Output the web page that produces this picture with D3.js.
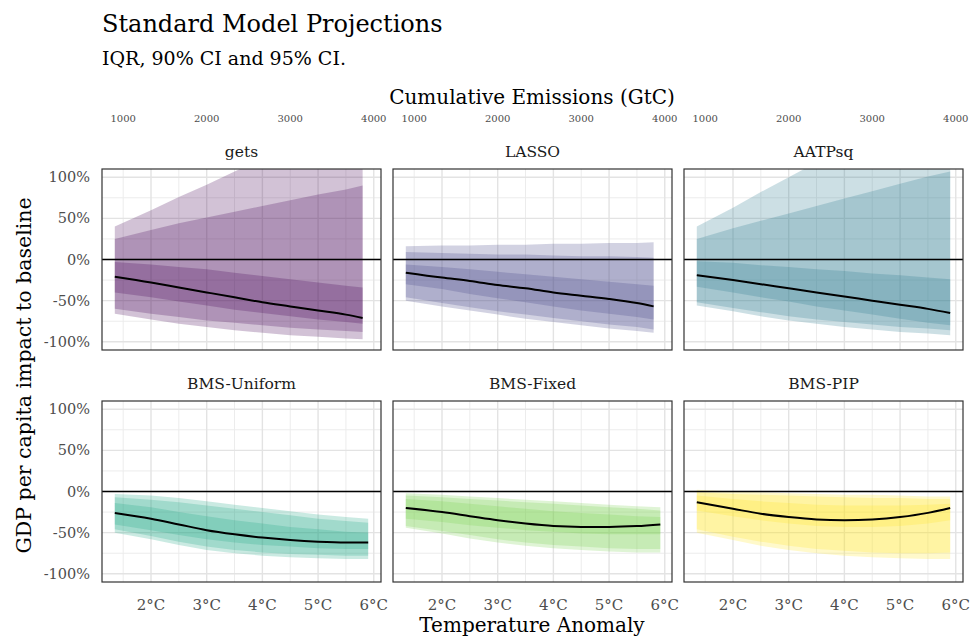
<!DOCTYPE html>
<html>
<head>
<meta charset="utf-8">
<script src="https://cdn.jsdelivr.net/npm/d3@7"></script>
<style>
  body { margin: 0; background: #fff; }
  svg text { font-family: "DejaVu Serif", serif; }
</style>
</head>
<body>
<svg id="chart"></svg>
<script>
const width = 973;
const height = 639;

// facets, in plotting order (3 x 2)
const models = ["gets", "LASSO", "AATPsq", "BMS-Uniform", "BMS-Fixed", "BMS-PIP"];

// temperature anomaly (°C) where the projections are read, last point differs per model
const tempGrid = [1.35, 2, 2.5, 3, 3.5, 4, 4.5, 5, 5.5];
const tempEnd = [5.8, 5.8, 5.9, 5.9, 5.92, 5.9];

// GDP per capita impact in %, one row per model, one value per temperature
const medianVals = [
    [-21, -28, -34, -40, -46, -52, -57, -62, -67, -71],
    [-16, -22, -26, -31, -35, -40, -44, -48, -53, -57],
    [-19, -25, -30, -35, -40, -45, -50, -55, -60, -65],
    [-26, -33, -40, -47, -52, -56, -59, -61, -62, -62],
    [-20, -25, -30, -35, -39, -42, -43, -43, -42, -40],
    [-13, -21, -27, -31, -34, -35, -34, -31, -26, -20]
];
const iqrHi = [
    [-3, -6, -9, -12, -16, -20, -24, -28, -32, -34],
    [-6, -9, -12, -15, -18, -21, -24, -27, -30, -32],
    [-2, -4, -7, -9, -12, -14, -17, -19, -22, -24],
    [-14, -19, -25, -30, -35, -39, -43, -46, -49, -50],
    [-9, -12, -15, -18, -21, -24, -26, -28, -30, -31],
    [-5, -9, -12, -14, -16, -17, -17, -17, -16, -15]
];
const iqrLo = [
    [-40, -46, -51, -56, -61, -65, -69, -73, -76, -78],
    [-30, -36, -42, -47, -52, -57, -62, -66, -70, -73],
    [-33, -40, -46, -51, -57, -62, -67, -72, -77, -80],
    [-40, -47, -53, -58, -62, -65, -67, -69, -70, -70],
    [-33, -37, -41, -44, -47, -49, -51, -52, -52, -52],
    [-23, -30, -35, -39, -42, -43, -43, -42, -39, -35]
];
const ci90Hi = [
    [25, 36, 44, 51, 58, 65, 72, 79, 85, 90],
    [9, 8, 7, 6, 6, 5, 4, 4, 3, 2],
    [25, 38, 47, 56, 65, 74, 83, 92, 101, 107],
    [-7, -10, -13, -17, -21, -25, -29, -33, -36, -38],
    [-5, -7, -9, -11, -13, -15, -17, -19, -21, -23],
    [-1, -3, -4, -5, -6, -7, -8, -8, -9, -9]
];
const ci90Lo = [
    [-60, -66, -70, -74, -77, -80, -83, -85, -87, -88],
    [-46, -53, -58, -63, -67, -71, -75, -79, -82, -85],
    [-52, -59, -64, -69, -73, -76, -79, -82, -84, -86],
    [-46, -54, -61, -67, -71, -74, -76, -77, -78, -78],
    [-42, -48, -53, -58, -62, -65, -67, -69, -70, -70],
    [-46, -55, -61, -66, -70, -72, -74, -75, -75, -74]
];
const ci95Hi = [
    [40, 60, 76, 91, 107, 122, 138, 153, 168, 178],
    [16, 17, 17, 18, 18, 19, 19, 20, 20, 21],
    [40, 63, 82, 100, 118, 137, 155, 173, 192, 207],
    [-3, -5, -8, -12, -16, -20, -24, -28, -31, -33],
    [-2, -4, -6, -8, -10, -12, -14, -16, -18, -19],
    [2, 0, -1, -2, -3, -4, -4, -5, -6, -6]
];
const ci95Lo = [
    [-66, -73, -78, -82, -86, -89, -92, -94, -96, -97],
    [-50, -57, -62, -67, -72, -76, -80, -84, -87, -89],
    [-56, -63, -69, -74, -78, -82, -85, -88, -90, -92],
    [-50, -58, -65, -71, -75, -78, -80, -81, -82, -82],
    [-44, -51, -57, -62, -66, -69, -71, -73, -74, -74],
    [-50, -59, -66, -71, -75, -78, -80, -81, -82, -82]
];

// axis ticks
const tempTicks = [2, 3, 4, 5, 6];
const tempMinor = [1.5, 2.5, 3.5, 4.5, 5.5];
const impactTicks = [-100, -50, 0, 50, 100];
const impactMinor = [-75, -25, 25, 75];
const emissionTicks = [1000, 2000, 3000, 4000];
const degPerGtC = 0.0015; // secondary axis: emissions -> temperature

// viridis, one per model
const modelColors = ["#440154", "#414487", "#2A788E", "#22A884", "#7AD151", "#FDE725"];
const bandOpacity = 0.24;

const panelW = 279, panelH = 181;
const colX = [102, 393, 684];
const rowY = [169, 401];

const svg = d3.select("#chart")
    .attr("width", width)
    .attr("height", height);

const x = d3.scaleLinear().domain([1.12, 6.13]).range([0, panelW]);
const y = d3.scaleLinear().domain([-110, 110]).range([panelH, 0]);

// titles
svg.append("text").attr("x", 102).attr("y", 32)
    .attr("font-size", "24px").attr("fill", "#000")
    .text("Standard Model Projections");
svg.append("text").attr("x", 102).attr("y", 65)
    .attr("font-size", "19px").attr("fill", "#000")
    .text("IQR, 90% CI and 95% CI.");

svg.append("text")
    .attr("x", 532).attr("y", 104)
    .attr("text-anchor", "middle")
    .attr("font-size", "20px").attr("fill", "#000")
    .text("Cumulative Emissions (GtC)");

svg.append("text")
    .attr("x", 532).attr("y", 632)
    .attr("text-anchor", "middle")
    .attr("font-size", "20px").attr("fill", "#000")
    .text("Temperature Anomaly");

svg.append("text")
    .attr("transform", `translate(31,${(rowY[0] + rowY[1] + panelH) / 2}) rotate(-90)`)
    .attr("text-anchor", "middle")
    .attr("font-size", "20.5px").attr("fill", "#000")
    .text("GDP per capita impact to baseline");

models.forEach((name, i) => {
    const col = i % 3, row = Math.floor(i / 3);
    const g = svg.append("g")
        .attr("transform", `translate(${colX[col]},${rowY[row]})`);

    // build the rows for this model
    const temps = tempGrid.concat([tempEnd[i]]);
    const rows = temps.map((t, k) => ({
        t: t,
        med: medianVals[i][k],
        iqrHi: iqrHi[i][k], iqrLo: iqrLo[i][k],
        ci90Hi: ci90Hi[i][k], ci90Lo: ci90Lo[i][k],
        ci95Hi: ci95Hi[i][k], ci95Lo: ci95Lo[i][k]
    }));

    g.append("clipPath").attr("id", "clip" + i)
        .append("rect").attr("width", panelW).attr("height", panelH);

    // grid
    const grid = g.append("g");
    grid.selectAll(".vminor").data(tempMinor).join("line")
        .attr("x1", d => x(d)).attr("x2", d => x(d))
        .attr("y1", 0).attr("y2", panelH)
        .attr("stroke", "#ececec").attr("stroke-width", 1);
    grid.selectAll(".hminor").data(impactMinor).join("line")
        .attr("x1", 0).attr("x2", panelW)
        .attr("y1", d => y(d)).attr("y2", d => y(d))
        .attr("stroke", "#ececec").attr("stroke-width", 1);
    grid.selectAll(".vmajor").data(tempTicks).join("line")
        .attr("x1", d => x(d)).attr("x2", d => x(d))
        .attr("y1", 0).attr("y2", panelH)
        .attr("stroke", "#e3e3e3").attr("stroke-width", 1.4);
    grid.selectAll(".hmajor").data(impactTicks).join("line")
        .attr("x1", 0).attr("x2", panelW)
        .attr("y1", d => y(d)).attr("y2", d => y(d))
        .attr("stroke", "#e3e3e3").attr("stroke-width", 1.4);

    const plot = g.append("g").attr("clip-path", `url(#clip${i})`);

    // ribbons: 95% CI, 90% CI, IQR stacked with transparency
    [["ci95Lo", "ci95Hi"], ["ci90Lo", "ci90Hi"], ["iqrLo", "iqrHi"]].forEach(([lo, hi]) => {
        plot.append("path")
            .datum(rows)
            .attr("fill", modelColors[i])
            .attr("fill-opacity", bandOpacity)
            .attr("d", d3.area()
                .x(d => x(d.t))
                .y0(d => y(d[lo]))
                .y1(d => y(d[hi])));
    });

    // baseline
    g.append("line")
        .attr("x1", 0).attr("x2", panelW)
        .attr("y1", y(0)).attr("y2", y(0))
        .attr("stroke", "#000").attr("stroke-width", 1.6);

    // median projection
    plot.append("path")
        .datum(rows)
        .attr("fill", "none")
        .attr("stroke", "#000")
        .attr("stroke-width", 2)
        .attr("d", d3.line().x(d => x(d.t)).y(d => y(d.med)).curve(d3.curveMonotoneX));

    // panel border
    g.append("rect")
        .attr("width", panelW).attr("height", panelH)
        .attr("fill", "none").attr("stroke", "#333").attr("stroke-width", 1.2);

    // strip label
    g.append("text")
        .attr("x", panelW / 2).attr("y", -12)
        .attr("text-anchor", "middle")
        .attr("font-size", "15.5px").attr("fill", "#1a1a1a")
        .text(name);

    // y axis labels only on first column
    if (col === 0) {
        g.selectAll(".ylab").data(impactTicks).join("text")
            .attr("x", -12).attr("y", d => y(d))
            .attr("dy", "0.35em")
            .attr("text-anchor", "end")
            .attr("font-size", "14.5px").attr("fill", "#4d4d4d")
            .text(d => d + "%");
    }

    // secondary emissions axis on the top row
    if (row === 0) {
        g.selectAll(".toplab").data(emissionTicks).join("text")
            .attr("x", d => x(d * degPerGtC)).attr("y", -47)
            .attr("text-anchor", "middle")
            .attr("font-size", "10px").attr("fill", "#4d4d4d")
            .text(d => d);
    }

    // temperature labels on the bottom row
    if (row === 1) {
        g.selectAll(".xlab").data(tempTicks).join("text")
            .attr("x", d => x(d)).attr("y", panelH + 28)
            .attr("text-anchor", "middle")
            .attr("font-size", "15px").attr("fill", "#4d4d4d")
            .text(d => d + "°C");
    }
});
</script>
</body>
</html>
